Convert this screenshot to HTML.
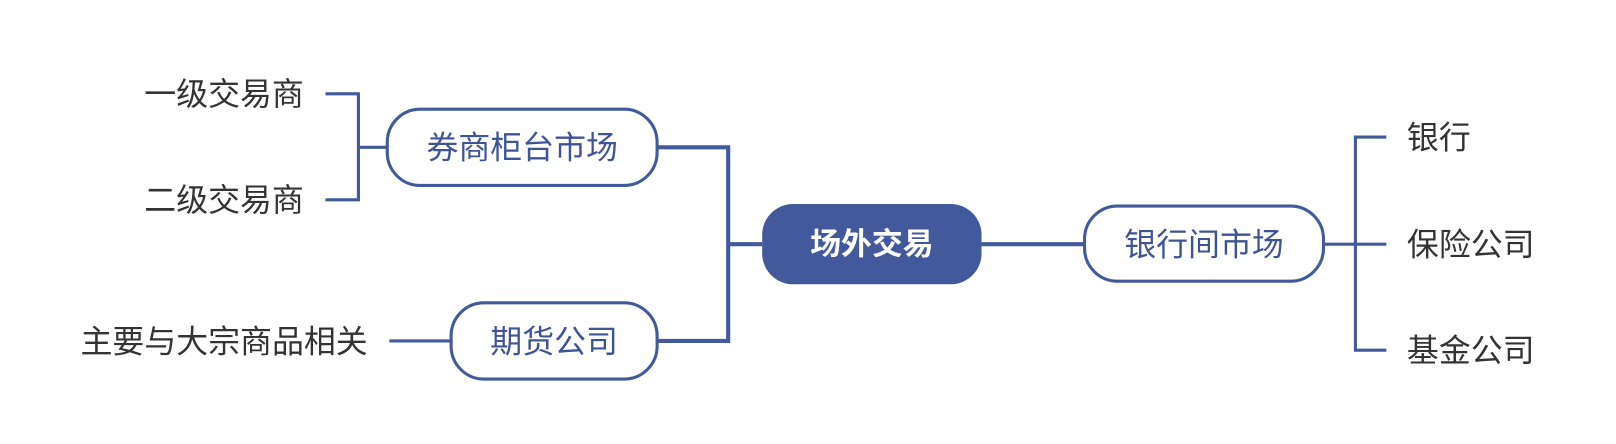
<!DOCTYPE html>
<html><head><meta charset="utf-8"><style>
html,body{margin:0;padding:0;background:#fff;}
svg{display:block;}
text{font-family:"Liberation Sans","Noto Sans CJK SC",sans-serif;}
</style></head><body>
<svg width="1616" height="444" viewBox="0 0 1569 431" xmlns="http://www.w3.org/2000/svg">
<rect width="1569" height="431" fill="#fff"/>
<g fill="none" stroke="#425a9c" stroke-width="4">
<path d="M740 237 H707 V143 H638 M707 237 V331 H638"/>
<path d="M953 237 H1053"/>
</g>
<g fill="none" stroke="#425a9c" stroke-width="3">
<path d="M376 143 H348 M316 91 H348 V194 H316"/>
<path d="M378 331 H438"/>
<path d="M1285 237 H1346 M1346 133 H1316 V340 H1346"/>
</g>
<rect x="740" y="198" width="213" height="78" rx="30" fill="#425a9c"/>
<text x="846.5" y="247" font-size="30" font-weight="bold" fill="#fff" text-anchor="middle">场外交易</text>
<rect x="376" y="106" width="262" height="74" rx="32" fill="#fff" stroke="#425a9c" stroke-width="3"/>
<text x="507" y="154" font-size="31" fill="#3f5495" text-anchor="middle">券商柜台市场</text>
<rect x="438" y="294" width="200" height="74" rx="32" fill="#fff" stroke="#425a9c" stroke-width="3"/>
<text x="538" y="342" font-size="31" fill="#3f5495" text-anchor="middle">期货公司</text>
<rect x="1053" y="200" width="232" height="73" rx="32" fill="#fff" stroke="#425a9c" stroke-width="3"/>
<text x="1169" y="248" font-size="31" fill="#3f5495" text-anchor="middle">银行间市场</text>
<g font-size="31" fill="#333">
<text x="295" y="102" text-anchor="end">一级交易商</text>
<text x="295" y="205" text-anchor="end">二级交易商</text>
<text x="357" y="342" text-anchor="end">主要与大宗商品相关</text>
<text x="1366" y="144">银行</text>
<text x="1366" y="248">保险公司</text>
<text x="1366" y="351">基金公司</text>
</g>
</svg>
</body></html>
